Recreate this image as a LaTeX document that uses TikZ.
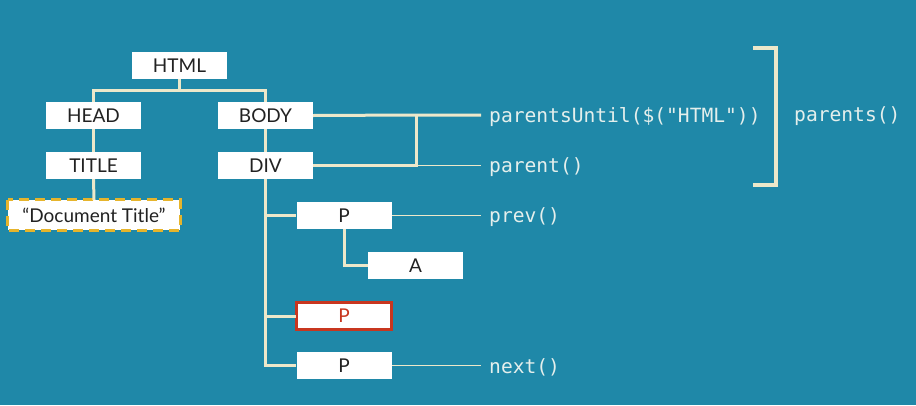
\documentclass[tikz,border=0pt]{standalone}
\usepackage{fontspec}
\setmainfont{Lato}
\newfontfamily\codefont{DejaVu Sans Mono}
\usetikzlibrary{calc}
\definecolor{bg}{HTML}{1F88A8}
\definecolor{cream}{HTML}{ECE8CA}
\definecolor{labelc}{HTML}{E4EFEC}
\definecolor{boxtext}{HTML}{222222}
\definecolor{gold}{HTML}{E6B42C}
\definecolor{redc}{HTML}{C8361F}
\tikzset{
  box/.style={draw=none, fill=white, minimum width=95pt, minimum height=27pt, inner sep=0pt,
    text=boxtext, font=\fontsize{19}{19}\selectfont},
  conn/.style={draw=cream, line width=3pt},
  thinconn/.style={draw=cream, line width=1.6pt},
  codelbl/.style={anchor=west, inner xsep=8pt, inner ysep=0pt, text=labelc,
    font=\codefont\fontsize{19.6}{19.6}\selectfont},
}
\begin{document}
\begin{tikzpicture}[x=1pt,y=-1pt]
\fill[bg] (0,0) rectangle (916,405);
\useasboundingbox (0,0) rectangle (916,405);

% boxes
\node[box] (html)  at (179.5,65.5) {HTML};
\node[box] (head)  at (93.5,115.5) {HEAD};
\node[box] (body)  at (265.5,115.5) {BODY};
\node[box] (title) at (93.5,165.5) {TITLE};
\node[box] (div)   at (265.5,165.5) {DIV};
\node[box, minimum width=172pt, minimum height=30pt] (doc) at (94,215) {``Document Title''};
\node[box] (p1) at (344,215.5) {P};
\node[box] (a)  at (415.5,265.5) {A};
\node[box, text=redc] (p2) at (344,316) {P};
\node[box] (p3) at (344,365.5) {P};

% borders drawn on top
\draw[gold, line width=3pt, dash pattern=on 10pt off 6pt] (doc.north west) rectangle (doc.south east);
\draw[redc, line width=2.6pt] (p2.north west) rectangle (p2.south east);

% tree connectors
\coordinate (hj) at (179.5,90);
\draw[conn] (html.south) -- (hj);
\draw[conn] (head.north) |- (hj) -| (body.north);
\draw[conn] (head.south) -- (title.north);
\draw[conn] (title.south) -- (doc.north);
\draw[conn] (body.south) -- (div.north);
\draw[conn] (div.south) -- (div.south |- p3.west) -- (p3.west);
\draw[conn] (div.south |- p1.west) -- (p1.west);
\draw[conn] (div.south |- p2.west) -- (p2.west);
\draw[conn] (p1.south) |- (a.west);

% labels
\node[codelbl] (lpu)  at (481,117) {parentsUntil(\$("HTML"))};
\node[codelbl] (lpar) at (481,167) {parent()};
\node[codelbl] (lprev) at (481,217) {prev()};
\node[codelbl] (lnext) at (481,367) {next()};
\node[codelbl] (lparents) at (786,116) {parents()};

% right connectors
\coordinate (vj) at (416,115);
\coordinate (vj2) at (416,165.5);
\draw[conn] (body.east) -- (vj) -- (lpu.west |- vj);
\draw[conn] (div.east) -- (vj2) -- (vj);
\draw[thinconn] (vj2) -- (lpar.west |- vj2);
\draw[thinconn] (p1.east) -- (lprev.west |- p1.east);
\draw[thinconn] (p3.east) -- (lnext.west |- p3.east);

% bracket
\coordinate (bt) at (753,48);
\coordinate (bb) at (753,185);
\draw[conn, line width=3.5pt] (bt) -- ++(23,0) -- ++(0,137) -- (bb);
\end{tikzpicture}
\end{document}
